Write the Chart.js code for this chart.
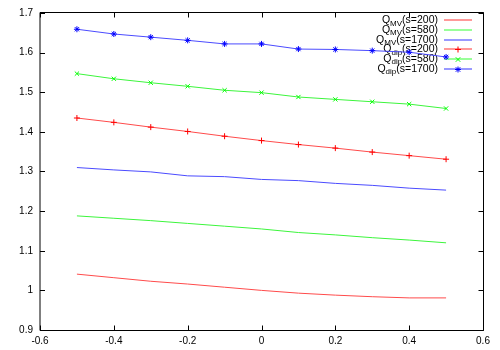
<!DOCTYPE html>
<html>
<head>
<meta charset="utf-8">
<script src="https://cdn.jsdelivr.net/npm/chart.js@4/dist/chart.umd.min.js"></script>
<style>
html,body{margin:0;padding:0;background:#fff;}
#wrap{width:500px;height:350px;}
</style>
</head>
<body>
<div id="wrap"><canvas id="c" width="500" height="350"></canvas></div>
<script>
// ---- data ----
const xValues = [-0.5, -0.4, -0.3, -0.2, -0.1, 0, 0.1, 0.2, 0.3, 0.4, 0.5];
const qmv200  = [1.041, 1.032, 1.023, 1.016, 1.008, 1.000, 0.993, 0.988, 0.984, 0.981, 0.981];
const qmv580  = [1.188, 1.182, 1.176, 1.169, 1.162, 1.155, 1.146, 1.140, 1.133, 1.127, 1.120];
const qmv1700 = [1.310, 1.304, 1.299, 1.289, 1.287, 1.280, 1.277, 1.270, 1.265, 1.258, 1.253];
const qdip200 = [1.435, 1.424, 1.412, 1.401, 1.389, 1.378, 1.368, 1.359, 1.349, 1.340, 1.331];
const qdip580 = [1.547, 1.534, 1.524, 1.515, 1.505, 1.499, 1.488, 1.482, 1.476, 1.470, 1.459];
const qdip1700= [1.659, 1.647, 1.639, 1.631, 1.622, 1.622, 1.609, 1.608, 1.605, 1.601, 1.589];
const xTicks = [-0.6, -0.4, -0.2, 0, 0.2, 0.4, 0.6];
const yTicks = [0.9, 1, 1.1, 1.2, 1.3, 1.4, 1.5, 1.6, 1.7];
const xTickLabels = ["-0.6", "-0.4", "-0.2", "0", "0.2", "0.4", "0.6"];
const yTickLabels = ["0.9", "1", "1.1", "1.2", "1.3", "1.4", "1.5", "1.6", "1.7"];
const seriesNames = [
  ["Q", "MV", "(s=200)"], ["Q", "MV", "(s=580)"], ["Q", "MV", "(s=1700)"],
  ["Q", "dip", "(s=200)"], ["Q", "dip", "(s=580)"], ["Q", "dip", "(s=1700)"]
];

const RED = "rgb(255,0,0)", GREEN = "rgb(0,255,0)", BLUE = "rgb(0,0,255)";
const RED_L = "rgb(255,75,75)", GREEN_L = "rgb(60,245,60)", BLUE_L = "rgb(75,75,255)";
const FONT = "'Liberation Sans', Arial, sans-serif";

function pts(ys){ return xValues.map((x,i)=>({x:x, y:ys[i]})); }

const styles = [
  {color: RED,   line: RED_L,   marker: null},
  {color: GREEN, line: GREEN_L, marker: null},
  {color: BLUE,  line: BLUE_L,  marker: null},
  {color: RED,   line: RED_L,   marker: 'cross'},
  {color: GREEN, line: GREEN_L, marker: 'crossRot'},
  {color: BLUE,  line: BLUE_L,  marker: 'star'}
];
const allSeries = [qmv200, qmv580, qmv1700, qdip200, qdip580, qdip1700];

const datasets = allSeries.map((ys, i) => ({
  label: seriesNames[i].join(''),
  data: pts(ys),
  borderColor: styles[i].line,
  backgroundColor: styles[i].color,
  borderWidth: 1,
  tension: 0,
  pointStyle: styles[i].marker || 'circle',
  pointRadius: styles[i].marker ? 3 : 0,
  pointBorderWidth: 1,
  pointBorderColor: styles[i].color,
  pointHoverRadius: 0,
  order: 6 - i
}));

function drawMarker(ctx, style, x, y, r, color){
  ctx.save();
  ctx.strokeStyle = color; ctx.lineWidth = 1;
  ctx.beginPath();
  if (style === 'cross' || style === 'star') {
    ctx.moveTo(x - r, y); ctx.lineTo(x + r, y);
    ctx.moveTo(x, y - r); ctx.lineTo(x, y + r);
  }
  if (style === 'crossRot' || style === 'star') {
    const d = r * 0.75;
    ctx.moveTo(x - d, y - d); ctx.lineTo(x + d, y + d);
    ctx.moveTo(x - d, y + d); ctx.lineTo(x + d, y - d);
  }
  ctx.stroke();
  ctx.restore();
}

const framePlugin = {
  id: 'frame',
  afterDraw(chart){
    const ctx = chart.ctx, a = chart.chartArea;
    const xs = chart.scales.x, ys = chart.scales.y;
    ctx.save();
    ctx.lineWidth = 1;
    ctx.strokeStyle = '#000';
    const L = a.left, R = Math.round(a.right) + 0.5, T = Math.round(a.top) - 0.5, B = Math.round(a.bottom) + 0.5;
    ctx.beginPath();
    ctx.moveTo(L, T); ctx.lineTo(R, T); ctx.lineTo(R, B); ctx.lineTo(L, B); ctx.closePath();
    ctx.stroke();
    const tl = 5;
    ctx.beginPath();
    xTicks.forEach(v => {
      const px = Math.round(xs.getPixelForValue(v)) + 0.5;
      ctx.moveTo(px, B); ctx.lineTo(px, B - tl);
      ctx.moveTo(px, T); ctx.lineTo(px, T + tl);
    });
    yTicks.forEach(v => {
      const py = Math.round(ys.getPixelForValue(v)) + 0.5;
      ctx.moveTo(L, py); ctx.lineTo(L + tl, py);
      ctx.moveTo(R, py); ctx.lineTo(R - tl, py);
    });
    ctx.stroke();
    ctx.restore();
  }
};

const legendPlugin = {
  id: 'gnuLegend',
  beforeDatasetsDraw(chart){
    const ctx = chart.ctx;
    const textRight = 438, lx1 = 444, lx2 = 472, y0 = 20.3, dy = 9.7;
    ctx.save();
    ctx.textBaseline = 'middle';
    seriesNames.forEach((parts, i) => {
      const y = y0 + i * dy;
      ctx.font = "10.5px " + FONT;
      const wQ = ctx.measureText(parts[0]).width;
      const wRest = ctx.measureText(parts[2]).width;
      ctx.font = "8px " + FONT;
      const wSub = ctx.measureText(parts[1]).width;
      let x = textRight - (wQ + wSub + wRest);
      ctx.fillStyle = '#000';
      ctx.textAlign = 'left';
      ctx.font = "10.5px " + FONT;
      ctx.fillText(parts[0], x, y); x += wQ;
      ctx.font = "8px " + FONT;
      ctx.fillText(parts[1], x, y + 3); x += wSub;
      ctx.font = "10.5px " + FONT;
      ctx.fillText(parts[2], x, y);
      ctx.strokeStyle = styles[i].color; ctx.lineWidth = 1;
      ctx.globalAlpha = 0.8;
      ctx.beginPath();
      ctx.moveTo(lx1, Math.round(y)); ctx.lineTo(lx2, Math.round(y));
      ctx.stroke();
      ctx.globalAlpha = 1;
      if (styles[i].marker) drawMarker(ctx, styles[i].marker, (lx1 + lx2) / 2, Math.round(y) + 0.5, 3, styles[i].color);
    });
    ctx.restore();
  }
};

new Chart(document.getElementById('c'), {
  type: 'line',
  data: { datasets: datasets },
  options: {
    responsive: false,
    animation: false,
    events: [],
    layout: { padding: { top: 11, right: 17, left: 0, bottom: 0 } },
    plugins: { legend: { display: false }, tooltip: { enabled: false } },
    elements: { line: { fill: false } },
    scales: {
      x: {
        type: 'linear', min: -0.6, max: 0.6,
        grid: { display: false, drawTicks: false },
        border: { display: false },
        afterBuildTicks: s => { s.ticks = xTicks.map(v => ({ value: v })); },
        afterFit: s => { s.height = 20; },
        ticks: {
          color: '#000', padding: 5, maxRotation: 0, autoSkip: false,
          font: { family: FONT, size: 10 },
          callback: (v) => { const i = xTicks.findIndex(t => Math.abs(t - v) < 1e-9); return i >= 0 ? xTickLabels[i] : ''; }
        }
      },
      y: {
        type: 'linear', min: 0.9, max: 1.7,
        grid: { display: false, drawTicks: false },
        border: { display: false },
        afterBuildTicks: s => { s.ticks = yTicks.map(v => ({ value: v })); },
        afterFit: s => { s.width = 40; },
        ticks: {
          color: '#000', padding: 7, autoSkip: false,
          font: { family: FONT, size: 10 },
          callback: (v) => { const i = yTicks.findIndex(t => Math.abs(t - v) < 1e-9); return i >= 0 ? yTickLabels[i] : ''; }
        }
      }
    }
  },
  plugins: [legendPlugin, framePlugin]
});
</script>
</body>
</html>
